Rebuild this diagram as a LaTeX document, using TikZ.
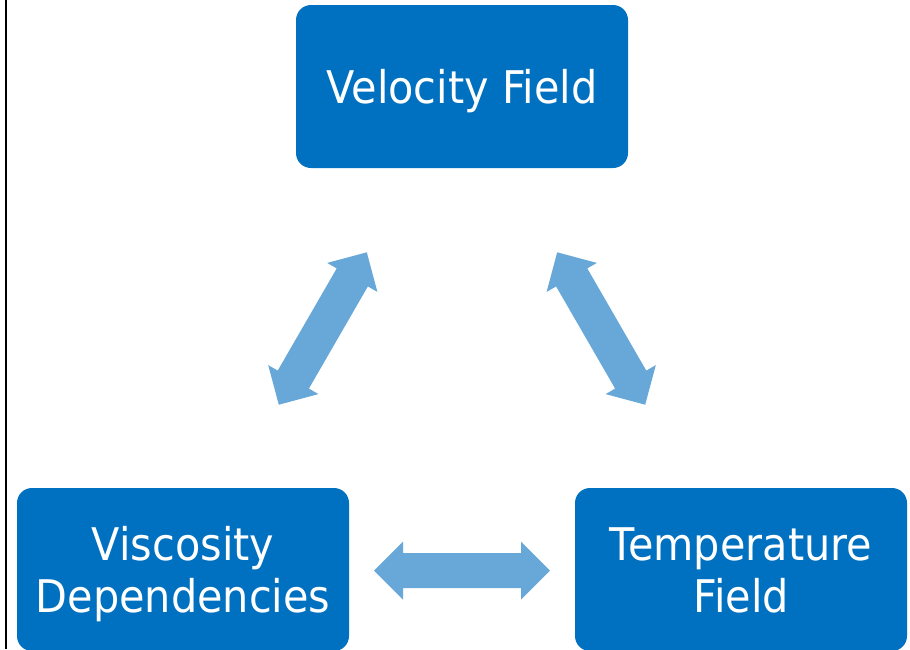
\documentclass[tikz,border=0pt]{standalone}
\usepackage{fontspec}
\setmainfont{DejaVu Sans}[FakeStretch=0.92]
\usetikzlibrary{calc}
\definecolor{boxblue}{RGB}{0,112,192}
\definecolor{arrowblue}{RGB}{104,168,216}
% two centred lines whose first baseline is the baseline of the box
\newcommand{\twolinetext}[2]{\begin{tabular}[t]{@{}c@{}}#1\\#2\end{tabular}}
\begin{document}
\begin{tikzpicture}[x=1pt,y=-1pt,
  fieldbox/.style={fill=boxblue, rounded corners=15pt, minimum width=332pt,
    minimum height=163pt, inner sep=0pt, text=white,
    font=\fontsize{45}{52}\selectfont, text height=33pt},
  oneline/.style={text depth=0pt},
  twoline/.style={text depth=52pt},
  % double-headed block arrow: head length 29, head half-width 29,
  % shaft half-width given as the argument
  coupling/.style={fill=arrowblue, to path={
    -- ($(\tikztostart)!29pt!(\tikztotarget)!29pt!90:(\tikztotarget)$)
    -- ($(\tikztostart)!29pt!(\tikztotarget)!#1!90:(\tikztotarget)$)
    -- ($(\tikztotarget)!29pt!(\tikztostart)!#1!-90:(\tikztostart)$)
    -- ($(\tikztotarget)!29pt!(\tikztostart)!29pt!-90:(\tikztostart)$)
    -- (\tikztotarget)
    -- ($(\tikztotarget)!29pt!(\tikztostart)!29pt!90:(\tikztostart)$)
    -- ($(\tikztotarget)!29pt!(\tikztostart)!#1!90:(\tikztostart)$)
    -- ($(\tikztostart)!29pt!(\tikztotarget)!#1!-90:(\tikztotarget)$)
    -- ($(\tikztostart)!29pt!(\tikztotarget)!29pt!-90:(\tikztotarget)$)
    -- cycle}},
  coupling/.default=17.5pt
]
\useasboundingbox (0,0) rectangle (910,649);
\clip (0,0) rectangle (910,649);

% frame line on the left
\draw[line width=2pt] (6,0) -- (6,649);

% the three coupled fields
\node[fieldbox, oneline] (velocity) at (462,86.5) {Velocity Field};
\node[fieldbox, twoline] (viscosity) at (183,569.5) {\twolinetext{Viscosity}{Dependencies}};
\node[fieldbox, twoline] (temperature) at (741,569.5) {\twolinetext{Temperature}{Field}};

% arrow end points
\coordinate (visTop) at (278.8,404.7);
\coordinate (velLeft) at (366.8,252.3);
\coordinate (velRight) at (557.2,252.3);
\coordinate (temTop) at (645.2,404.7);
\coordinate (visRight) at (374,570.5);
\coordinate (temLeft) at (550,570.5);

% couplings
\path[coupling=18pt] (visTop) to (velLeft);
\path[coupling=18pt] (velRight) to (temTop);
\path[coupling] (visRight) to (temLeft);
\end{tikzpicture}
\end{document}
